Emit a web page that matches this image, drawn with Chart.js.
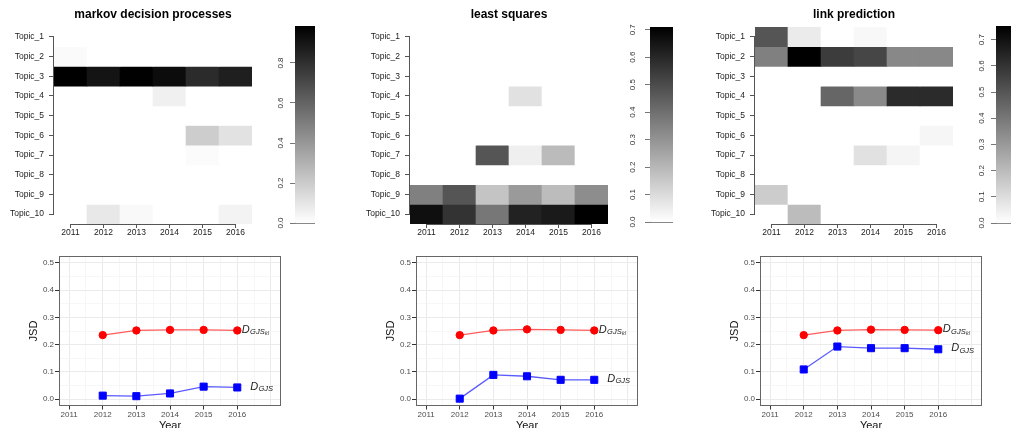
<!doctype html>
<html lang="en">
  <head>
    <meta charset="utf-8">
    <title>Topic heatmaps and JSD</title>
    <style>
      * { margin: 0; padding: 0; }
      body { width: 1011px; height: 428px; overflow: hidden; background: #fff; position: relative; }
      canvas { position: absolute; }
    </style>
  </head>
  <body>
    <canvas id="heat1" width="258" height="245" style="left:0px;top:0px"></canvas>
    <canvas id="bar1" width="62" height="240" style="left:255px;top:0px"></canvas>
    <canvas id="heat2" width="258" height="245" style="left:356px;top:0px"></canvas>
    <canvas id="bar2" width="65" height="240" style="left:610px;top:0px"></canvas>
    <canvas id="heat3" width="258" height="245" style="left:701px;top:0px"></canvas>
    <canvas id="bar3" width="62" height="240" style="left:956px;top:0px"></canvas>
    <canvas id="line1" width="286" height="190" style="left:3px;top:250px"></canvas>
    <canvas id="line2" width="286" height="190" style="left:360px;top:250px"></canvas>
    <canvas id="line3" width="286" height="190" style="left:704px;top:250px"></canvas>

    <script src="https://cdn.jsdelivr.net/npm/chart.js/dist/chart.umd.min.js"></script>
    <script>
    // data
    const years = ['2011', '2012', '2013', '2014', '2015', '2016'];
    const topics = ['Topic_1', 'Topic_2', 'Topic_3', 'Topic_4', 'Topic_5',
                    'Topic_6', 'Topic_7', 'Topic_8', 'Topic_9', 'Topic_10'];

    // one row per topic, one column per year
    const heatMdp = [
      [0, 0, 0, 0, 0, 0],
      [0.019, 0, 0, 0, 0, 0],
      [0.985, 0.908, 0.98, 0.939, 0.819, 0.865],
      [0, 0, 0, 0.058, 0, 0],
      [0, 0, 0, 0, 0, 0],
      [0, 0, 0, 0, 0.193, 0.112],
      [0, 0, 0, 0, 0.015, 0],
      [0, 0, 0, 0, 0, 0],
      [0, 0, 0, 0, 0, 0],
      [0, 0.089, 0.023, 0, 0, 0.046]
    ];
    const heatLs = [
      [0, 0, 0, 0, 0, 0],
      [0, 0, 0, 0, 0, 0],
      [0, 0, 0, 0, 0, 0],
      [0, 0, 0, 0.084, 0, 0],
      [0, 0, 0, 0, 0, 0],
      [0, 0, 0, 0, 0, 0],
      [0, 0, 0.473, 0.045, 0.189, 0],
      [0, 0, 0, 0, 0, 0],
      [0.354, 0.473, 0.164, 0.281, 0.187, 0.317],
      [0.668, 0.568, 0.379, 0.615, 0.638, 0.71]
    ];
    const heatLp = [
      [0.501, 0.059, 0, 0.021, 0, 0],
      [0.374, 0.752, 0.575, 0.546, 0.351, 0.351],
      [0, 0, 0, 0, 0, 0],
      [0, 0, 0.451, 0.345, 0.625, 0.625],
      [0, 0, 0, 0, 0, 0],
      [0, 0, 0, 0, 0, 0.027],
      [0, 0, 0, 0.088, 0.029, 0],
      [0, 0, 0, 0, 0, 0],
      [0.150, 0, 0, 0, 0, 0],
      [0, 0.198, 0, 0, 0, 0]
    ];

    const lineYears = [2012, 2013, 2014, 2015, 2016];
    const klMdp = [0.235, 0.252, 0.254, 0.254, 0.252];
    const gjsMdp = [0.013, 0.011, 0.021, 0.046, 0.043];
    const klLs = [0.235, 0.252, 0.256, 0.254, 0.252];
    const gjsLs = [0.002, 0.089, 0.084, 0.071, 0.071];
    const klLp = [0.235, 0.252, 0.255, 0.254, 0.253];
    const gjsLp = [0.109, 0.193, 0.187, 0.187, 0.183];

    Chart.defaults.font.family = '"Liberation Sans", Arial, sans-serif';
    Chart.defaults.animation = false;
    Chart.defaults.responsive = false;
    Chart.defaults.plugins.legend.display = false;
    Chart.defaults.plugins.tooltip.enabled = false;

    function gray(v, max) {
      const g = Math.round(255 * (1 - v / max));
      return 'rgb(' + g + ',' + g + ',' + g + ')';
    }

    // R style axis lines (first tick to last tick) + panel title
    const heatAxes = {
      id: 'heatAxes',
      afterDraw(chart, args, opts) {
        const { ctx, chartArea: a, scales: { x, y } } = chart;
        ctx.save();
        ctx.strokeStyle = '#555';
        ctx.lineWidth = 1;
        ctx.beginPath();
        const lx = Math.round(a.left) - 0.5;
        ctx.moveTo(lx, y.getPixelForValue(0.5));
        ctx.lineTo(lx, y.getPixelForValue(topics.length - 0.5));
        const by = Math.round(a.bottom) + 0.5;
        ctx.moveTo(x.getPixelForValue(0), by);
        ctx.lineTo(x.getPixelForValue(years.length - 1), by);
        ctx.stroke();
        ctx.fillStyle = '#000';
        ctx.font = 'bold 12px "Liberation Sans", Arial, sans-serif';
        ctx.textAlign = 'center';
        ctx.textBaseline = 'middle';
        ctx.fillText(opts.text, (a.left + a.right) / 2, 15);
        ctx.restore();
      }
    };

    function heatmap(id, title, matrix) {
      const max = Math.max(...matrix.flat());
      const datasets = matrix.map((row, i) => ({
        label: topics[i],
        data: row.map(() => [i, i + 1]),
        backgroundColor: row.map(v => gray(v, max)),
        grouped: false,
        barPercentage: 1,
        categoryPercentage: 1,
        borderWidth: 0
      }));
      new Chart(document.getElementById(id), {
        type: 'bar',
        data: { labels: years, datasets },
        options: {
          layout: { padding: { top: 27, right: 6 } },
          plugins: { heatAxes: { text: title } },
          scales: {
            x: {
              grid: { offset: false, drawOnChartArea: false, tickLength: 4, tickColor: '#555' },
              border: { display: false },
              ticks: { font: { size: 8.5 }, color: '#222', padding: 0, maxRotation: 0, autoSkip: false },
              afterFit: s => { s.height = 21; }
            },
            y: {
              min: 0, max: topics.length, reverse: true,
              afterBuildTicks: s => { s.ticks = topics.map((t, i) => ({ value: i + 0.5 })); },
              grid: { drawOnChartArea: false, tickLength: 5, tickColor: '#555' },
              border: { display: false },
              ticks: { callback: (v, i) => topics[i], font: { size: 8.5 }, color: '#222', padding: 5, autoSkip: false },
              afterFit: s => { s.width = 54; }
            }
          }
        },
        plugins: [heatAxes]
      });
    }

    const barBase = {
      id: 'barBase',
      afterDraw(chart) {
        const { ctx, chartArea: a } = chart;
        ctx.save();
        ctx.strokeStyle = '#888';
        ctx.lineWidth = 1;
        ctx.beginPath();
        ctx.moveTo(a.left, Math.round(a.bottom) + 0.5);
        ctx.lineTo(a.right, Math.round(a.bottom) + 0.5);
        ctx.stroke();
        ctx.restore();
      }
    };

    function colorbar(id, matrix, step, top, bottom, pad) {
      const max = Math.max(...matrix.flat());
      new Chart(document.getElementById(id), {
        type: 'bar',
        data: {
          labels: [''],
          datasets: [{
            data: [[0, max]],
            barPercentage: 1,
            categoryPercentage: 1,
            borderWidth: 0,
            backgroundColor: c => {
              const a = c.chart.chartArea;
              if (!a) return '#888';
              const g = c.chart.ctx.createLinearGradient(0, a.bottom, 0, a.top);
              g.addColorStop(0, '#ffffff');
              g.addColorStop(1, '#000000');
              return g;
            }
          }]
        },
        options: {
          layout: { padding: { top: top, bottom: bottom, right: 2 } },
          scales: {
            x: { display: false },
            y: {
              min: 0, max: max,
              afterBuildTicks: s => {
                s.ticks = [];
                for (let k = 0; k * step <= max + 1e-9; k++) s.ticks.push({ value: k * step });
              },
              grid: { drawOnChartArea: false, tickLength: 5, tickColor: '#777' },
              border: { color: '#999' },
              ticks: {
                minRotation: 90, maxRotation: 90, crossAlign: 'center', padding: pad,
                font: { size: 8 }, color: '#333', autoSkip: false,
                callback: v => v.toFixed(1)
              },
              afterFit: s => { s.width = 40; }
            }
          }
        },
        plugins: [barBase]
      });
    }

    // theme_bw panel border
    const panelBox = {
      id: 'panelBox',
      afterDraw(chart) {
        const { ctx, chartArea: a } = chart;
        ctx.save();
        ctx.strokeStyle = '#666';
        ctx.lineWidth = 1;
        ctx.strokeRect(Math.round(a.left) + 0.5, Math.round(a.top) + 0.5,
                       Math.round(a.right - a.left) - 1, Math.round(a.bottom - a.top) - 1);
        ctx.restore();
      }
    };

    // D_GJS labels at the end of each line
    const endLabels = {
      id: 'endLabels',
      afterDatasetsDraw(chart, args, opts) {
        const { ctx, scales: { x, y } } = chart;
        ctx.save();
        ctx.fillStyle = '#1a1a1a';
        ctx.textBaseline = 'middle';
        ctx.textAlign = 'left';
        chart.data.datasets.forEach((ds, i) => {
          const lab = opts.labels[i];
          const last = ds.data[ds.data.length - 1].y;
          const parts = [
            { t: lab.main, size: 11, dy: 0 },
            { t: lab.sub, size: 7.5, dy: 2.5 }
          ];
          if (lab.subsub) parts.push({ t: lab.subsub, size: 5.5, dy: 4.5 });
          let w = 0;
          parts.forEach(p => {
            ctx.font = 'italic ' + p.size + 'px "Liberation Sans", Arial, sans-serif';
            p.w = ctx.measureText(p.t).width;
            w += p.w;
          });
          let px = x.getPixelForValue(lab.x) - w / 2;
          const py = y.getPixelForValue(last) - 1;
          parts.forEach(p => {
            ctx.font = 'italic ' + p.size + 'px "Liberation Sans", Arial, sans-serif';
            ctx.fillText(p.t, px, py + p.dy);
            px += p.w + 0.3;
          });
        });
        ctx.restore();
      }
    };

    function jsdChart(id, kl, gjs) {
      new Chart(document.getElementById(id), {
        type: 'line',
        data: {
          datasets: [{
            label: 'GJSkl',
            data: lineYears.map((yr, i) => ({ x: yr, y: kl[i] })),
            borderColor: '#ff5a5a',
            borderWidth: 1.3,
            pointStyle: 'circle',
            pointRadius: 3.7,
            pointBackgroundColor: '#ff0000',
            pointBorderColor: '#ff0000',
            pointBorderWidth: 1
          }, {
            label: 'GJS',
            data: lineYears.map((yr, i) => ({ x: yr, y: gjs[i] })),
            borderColor: '#5a5aff',
            borderWidth: 1.3,
            pointStyle: 'rect',
            pointRadius: 5,
            pointBackgroundColor: '#0000ff',
            pointBorderColor: '#0000ff',
            pointBorderWidth: 1
          }]
        },
        options: {
          layout: { padding: { top: 6, right: 8 } },
          plugins: {
            endLabels: {
              labels: [
                { main: 'D', sub: 'GJS', subsub: 'kl', x: 2016.53 },
                { main: 'D', sub: 'GJS', x: 2016.72 }
              ]
            }
          },
          scales: {
            x: {
              type: 'linear', min: 2010.7, max: 2017.3,
              afterBuildTicks: s => {
                s.ticks = [];
                for (let k = 0; k <= 12; k++) s.ticks.push({ value: 2011 + k / 2 });
              },
              grid: {
                color: c => c.index % 2 === 0 ? '#ebebeb' : '#f3f3f3',
                lineWidth: c => c.index % 2 === 0 ? 1 : 0.7,
                tickLength: 3.5,
                tickWidth: 1,
                tickColor: c => (c.index % 2 === 0 && c.index < 12) ? '#333' : 'rgba(0,0,0,0)'
              },
              border: { display: false },
              ticks: {
                autoSkip: false, maxRotation: 0, padding: 0.5,
                font: { size: 8 }, color: '#4d4d4d',
                callback: (v, i) => (i % 2 === 0 && i < 12) ? String(v) : ''
              },
              title: { display: true, text: 'Year', font: { size: 11 }, color: '#111', padding: { top: 0, bottom: 7.4 } },
              afterFit: s => { s.height = 34; }
            },
            y: {
              min: -0.025, max: 0.525,
              afterBuildTicks: s => {
                s.ticks = [];
                for (let k = 0; k <= 10; k++) s.ticks.push({ value: k / 20 });
              },
              grid: {
                color: c => c.index % 2 === 0 ? '#ebebeb' : '#f3f3f3',
                lineWidth: c => c.index % 2 === 0 ? 1 : 0.7,
                tickLength: 4,
                tickWidth: 1,
                tickColor: c => c.index % 2 === 0 ? '#333' : 'rgba(0,0,0,0)'
              },
              border: { display: false },
              ticks: {
                autoSkip: false, padding: 1,
                font: { size: 8 }, color: '#4d4d4d',
                callback: (v, i) => i % 2 === 0 ? (i / 20).toFixed(1) : ''
              },
              title: { display: true, text: 'JSD', font: { size: 11 }, color: '#111', padding: { top: 24.4, bottom: 0 } },
              afterFit: s => { s.width = 56; }
            }
          }
        },
        plugins: [panelBox, endLabels]
      });
    }

    heatmap('heat1', 'markov decision processes', heatMdp);
    heatmap('heat2', 'least squares', heatLs);
    heatmap('heat3', 'link prediction', heatLp);
    colorbar('bar1', heatMdp, 0.2, 26, 17, 3.4);
    colorbar('bar2', heatLs, 0.1, 27, 18, 6.4);
    colorbar('bar3', heatLp, 0.1, 26, 17, 3.4);
    jsdChart('line1', klMdp, gjsMdp);
    jsdChart('line2', klLs, gjsLs);
    jsdChart('line3', klLp, gjsLp);
    </script>
  </body>
</html>
